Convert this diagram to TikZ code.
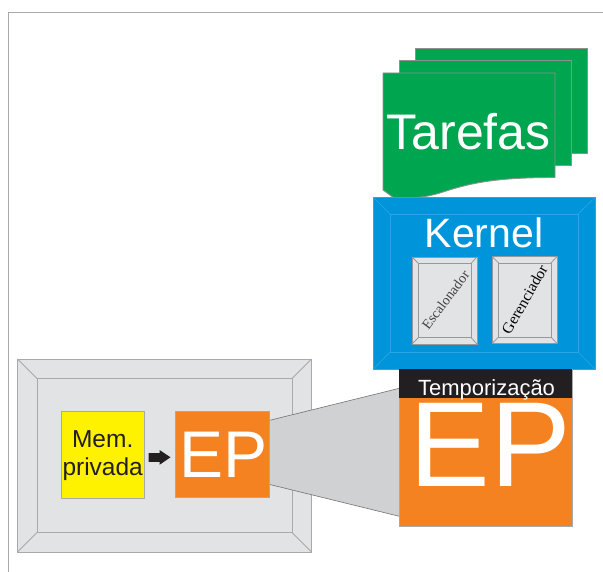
\documentclass[tikz,border=0pt]{standalone}
\usepackage{fontspec}
\setmainfont{Liberation Sans}
\newfontfamily\serifface{Liberation Serif}
\definecolor{tgreen}{HTML}{00A54F}
\definecolor{kblue}{HTML}{0095DA}
\definecolor{kedge}{HTML}{2AA7E0}
\definecolor{pgray}{HTML}{E2E3E5}
\definecolor{pedge}{HTML}{A7A9AC}
\definecolor{eporange}{HTML}{F58220}
\definecolor{memyellow}{HTML}{FFF200}
\definecolor{tgray}{HTML}{CFD1D3}
\definecolor{ink}{HTML}{231F20}
\tikzset{
  x=1pt,y=-1pt,
  sheet/.style={fill=tgreen,draw=pedge!85!black,line width=.9pt},
  panelbox/.style={fill=pgray,draw=pedge,line width=.9pt},
  kbox/.style={fill=kblue,draw=kedge,line width=.7pt},
  kline/.style={draw=kedge,line width=.6pt},
  epbox/.style={fill=eporange,draw=pedge,line width=.7pt},
  lbl/.style={inner sep=0pt,outer sep=0pt,anchor=center},
  fs/.style={font=\fontsize{#1}{#1}\selectfont}
}
\newcommand{\bevelbox}[9]{%
  \draw[#1] (#2,#3) rectangle (#4,#5);
  \draw[#1] (#6,#7) rectangle (#8,#9);
  \draw[#1] (#2,#3) -- (#6,#7) (#4,#3) -- (#8,#7) (#2,#5) -- (#6,#9) (#4,#5) -- (#8,#9);
}
\begin{document}
\begin{tikzpicture}
\useasboundingbox (0,0) rectangle (603,572);
% page frame
\draw[pedge,line width=1pt] (8.5,572) -- (8.5,12.5) -- (603,12.5);
% tarefas sheets
\filldraw[sheet] (415.5,48.7) rectangle (587.7,153);
\filldraw[sheet] (399.3,60.7) rectangle (571.5,165.5);
\filldraw[sheet] (383,73) -- (555,73) -- (555,177.5) .. controls (495,177.5) and (470,183) .. (440,193) .. controls (425,197.5) and (410,199) .. (394,198) -- (383,190) -- cycle;
\node[lbl,white,fs=50] (tarefas) at (468.5,132) {Tarefas};
% kernel
\filldraw[kbox] (373.5,197.5) rectangle (595,369);
\draw[kline] (390,214) rectangle (578,352);
\draw[kline] (373.5,197.5) -- (390,214) (595,197.5) -- (578,214) (373.5,369) -- (390,352) (595,369) -- (578,352);
\node[lbl,white,fs=41] (kernel) at (484,233) {Kernel};
% escalonador
\filldraw[panelbox,line width=.8pt] (412,257) rectangle (477,344);
\bevelbox{pedge!90!black,line width=.8pt}{412}{257}{477}{344}{418.5}{263.5}{471}{337.5}
\node[lbl,rotate=53,ink!85,fs=14] (esc) at (445.5,300) {\serifface Escalonador};
% gerenciador
\filldraw[panelbox,line width=.8pt] (492,256.5) rectangle (557,343.5);
\bevelbox{pedge!90!black,line width=.8pt}{492}{256.5}{557}{343.5}{498.7}{263}{551}{337}
\node[lbl,rotate=60,black,fs=15.5] (ger) at (524.5,299.5) {\serifface Gerenciador};
% big grey panel
\filldraw[panelbox] (17.5,359) rectangle (311.5,552);
\bevelbox{pedge,line width=.9pt}{17.5}{359}{311.5}{552}{37}{378.5}{292}{532.5}
% zoom wedge
\filldraw[fill=tgray,draw=black!55,line width=.6pt] (269,420.5) -- (399.3,388.3) -- (399.3,516.3) -- (269,484.3) -- cycle;
% memory
\node[fill=memyellow,draw=pedge,line width=.7pt,minimum width=83.5pt,minimum height=86.5pt,inner sep=0pt,outer sep=0pt,anchor=north west] (mem) at (61,411.7) {};
\node[lbl,ink,font=\fontsize{24.5}{28}\selectfont,align=center] (memtext) at (102.7,456) {Mem.\\privada};
% small EP
\node[epbox,minimum width=94pt,minimum height=86pt,inner sep=0pt,outer sep=0pt,anchor=north west] (ep) at (175.5,411) {};
\node[lbl,white,fs=66] (eptext) at (223.5,455) {EP};
% arrow
\fill[ink] (148.5,453) -- (159.5,453) -- (159.5,450) -- (170.5,457.3) -- (159.5,464.8) -- (159.5,461.8) -- (148.5,461.8) -- cycle;
% big EP
\filldraw[epbox] (399.3,369.3) rectangle (572.3,526.7);
\fill[ink] (399.3,369.3) rectangle (572.3,398.3);
\node[lbl,white,fs=121] (epbig) at (490,445) {EP};
\node[lbl,white,fs=22] (temp) at (486.5,390) {Temporização};
\end{tikzpicture}
\end{document}
